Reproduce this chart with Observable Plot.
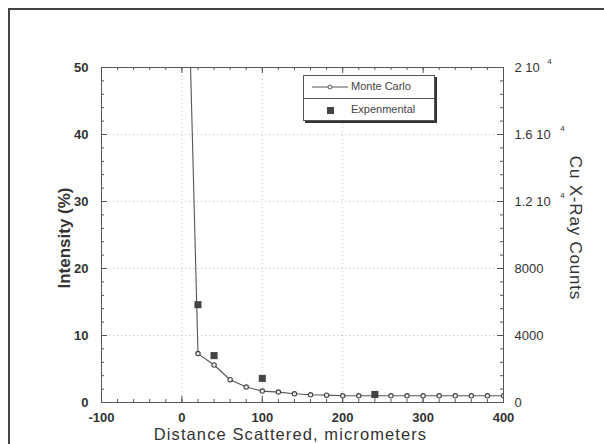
<!DOCTYPE html>
<html>
<head>
<meta charset="utf-8">
<script src="https://cdn.jsdelivr.net/npm/d3@7"></script>
<script src="https://cdn.jsdelivr.net/npm/@observablehq/plot@0.6"></script>
<style>
  html, body { margin: 0; padding: 0; background: #fff; }
  #wrap { position: relative; width: 604px; height: 444px; overflow: hidden; font-family: "Liberation Sans", Arial, sans-serif; }
  #border { position: absolute; left: 8px; top: 8px; width: 600px; height: 450px; border-left: 2px solid #444; border-top: 2px solid #444; }
  #legend { position: absolute; left: 303px; top: 75px; width: 130px; height: 44px; border: 1px solid #555; background: #fff; box-shadow: 2px 2px 0 #333; font-size: 11px; color: #444; }
  #legend .row { position: absolute; left: 0; width: 130px; height: 22px; }
  #legend .row svg { position: absolute; left: 6px; top: 5px; }
  #legend .row span { position: absolute; left: 47px; top: 4px; }
  #legend .sep { position: absolute; left: 0; top: 22px; width: 130px; border-top: 1px solid #555; }
</style>
</head>
<body>
<div id="wrap">
  <div id="border"></div>
  <div id="chart"></div>
  <div id="legend">
    <div class="row" style="top:0"><svg width="40" height="12"><line x1="2" y1="6" x2="38" y2="6" stroke="#555"/><circle cx="20" cy="6" r="2" fill="#fff" stroke="#555"/></svg><span>Monte Carlo</span></div>
    <div class="sep"></div>
    <div class="row" style="top:23px"><svg width="40" height="12"><rect x="17" y="3" width="7" height="7" fill="#444"/></svg><span>Expenmental</span></div>
  </div>
</div>
<script>
// Monte Carlo simulation (Intensity %)
const mcX = [0, 20, 40, 60, 80, 100, 120, 140, 160, 180, 200, 220, 240, 260, 280, 300, 320, 340, 360, 380, 400];
const mcY = [100, 7.3, 5.6, 3.4, 2.3, 1.7, 1.55, 1.3, 1.15, 1.1, 1.0, 1.0, 1.0, 1.0, 1.0, 1.0, 1.0, 1.0, 1.0, 1.0, 1.0];
// Experimental measurements
const expX = [20, 40, 100, 240];
const expY = [14.6, 7.0, 3.6, 1.2];
// Axis ticks
const xTicks = [-100, 0, 100, 200, 300, 400];
const xMinor = d3.range(-100, 401, 20);
const yTicks = [0, 10, 20, 30, 40, 50];
const yMinor = d3.range(0, 51, 2);
const rightLabels = ["0", "4000", "8000", "1.2 10", "1.6 10", "2 10"];
const rightSup = ["", "", "", "4", "4", "4"];
const xGridVals = [0, 100, 200];
const yGridVals = [10, 20, 30, 40];

const mc = mcX.map((x, i) => ({x, y: mcY[i]}));
const ex = expX.map((x, i) => ({x, y: expY[i]}));

const W = 604, H = 444, mL = 101, mR = 101, mT = 67, mB = 42;
const fw = W - mL - mR, fh = H - mT - mB;
const ink = "#333";

const supMarks = yTicks.map((v, i) => rightSup[i] ? Plot.text([v], {
  y: d => d, frameAnchor: "right", text: () => rightSup[i],
  dx: rightLabels[i].length > 4 ? 59 : 46, dy: -6, fontSize: 8, fill: ink, textAnchor: "middle"
}) : null).filter(Boolean);

const chart = Plot.plot({
  width: W, height: H,
  marginLeft: mL, marginRight: mR, marginTop: mT, marginBottom: mB,
  x: {domain: [-100, 400]},
  y: {domain: [0, 50]},
  style: {fontFamily: "'Liberation Sans', Arial, sans-serif", background: "transparent", color: ink},
  marks: [
    Plot.gridY(yGridVals, {stroke: "#888", strokeOpacity: 0.5, strokeDasharray: "1,3"}),
    Plot.gridX(xGridVals, {stroke: "#888", strokeOpacity: 0.5, strokeDasharray: "1,3"}),
    // minor + major ticks, inward
    Plot.tickX(xMinor, {x: d => d, stroke: "#555", insetTop: fh - 3}),
    Plot.tickX(xMinor, {x: d => d, stroke: "#555", insetBottom: fh - 3}),
    Plot.tickX(xTicks, {x: d => d, stroke: "#555", insetTop: fh - 6}),
    Plot.tickX(xTicks, {x: d => d, stroke: "#555", insetBottom: fh - 6}),
    Plot.tickY(yMinor, {y: d => d, stroke: "#555", insetRight: fw - 3}),
    Plot.tickY(yMinor, {y: d => d, stroke: "#555", insetLeft: fw - 3}),
    Plot.tickY(yTicks, {y: d => d, stroke: "#555", insetRight: fw - 6}),
    Plot.tickY(yTicks, {y: d => d, stroke: "#555", insetLeft: fw - 6}),
    Plot.frame({stroke: "#555"}),
    Plot.axisX({ticks: xTicks, tickSize: 0, tickPadding: 10, fontSize: 13, fontWeight: "bold", label: null, tickFormat: d => String(d)}),
    Plot.axisY({ticks: yTicks, tickSize: 0, tickPadding: 13, fontSize: 13, fontWeight: "bold", label: null}),
    Plot.axisY({anchor: "right", ticks: yTicks, tickSize: 0, tickPadding: 11, fontSize: 13, label: null,
      tickFormat: d => rightLabels[yTicks.indexOf(d)]}),
    ...supMarks,
    Plot.line(mc, {x: "x", y: "y", stroke: "#555", strokeWidth: 1.1, clip: true}),
    Plot.dot(mc, {x: "x", y: "y", r: 2.2, fill: "#eee", stroke: "#444", strokeWidth: 1.1, clip: true}),
    Plot.dot(ex, {x: "x", y: "y", symbol: "square", r: 4, fill: "#444"}),
    Plot.text(["Intensity (%)"], {frameAnchor: "left", textAnchor: "middle", lineAnchor: "middle", dx: -37, dy: 3, rotate: -90, fontSize: 17, fontWeight: "bold", fill: ink}),
    Plot.text(["Cu X-Ray Counts"], {frameAnchor: "right", textAnchor: "middle", lineAnchor: "middle", dx: 72, dy: -7, rotate: 90, fontSize: 17, fill: ink}),
    Plot.text(["Distance Scattered, micrometers"], {frameAnchor: "bottom", textAnchor: "middle", lineAnchor: "middle", dx: -12, dy: 32.5, fontSize: 16.5, fill: ink})
  ]
});
document.getElementById("chart").appendChild(chart);
d3.select(chart).selectAll("text").filter(function() { return this.textContent === "Distance Scattered, micrometers"; }).style("letter-spacing", "1.1px");
d3.select(chart).selectAll("text").filter(function() { return this.textContent === "Cu X-Ray Counts"; }).style("letter-spacing", "0.8px");
</script>
</body>
</html>
